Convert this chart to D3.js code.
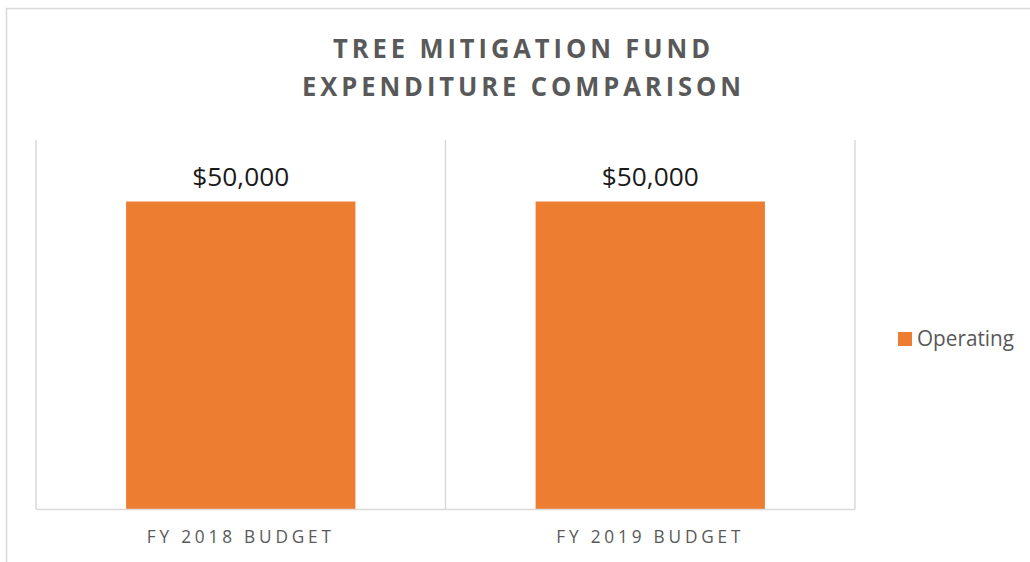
<!DOCTYPE html>
<html><head><meta charset="utf-8">
<script src="https://cdn.jsdelivr.net/npm/d3@7"></script>
<style>body{margin:0;background:#fff}svg{display:block}</style>
</head><body>
<svg id="c" width="1030" height="562"></svg>
<script>
const categories = ["FY 2018 BUDGET", "FY 2019 BUDGET"];
const seriesName = "Operating";
const operating = [50000, 50000];
const titleLines = ["TREE MITIGATION FUND", "EXPENDITURE COMPARISON"];
const yMax = 60000;

const svg = d3.select("#c");
const font = "'Open Sans', sans-serif";
const grey = "#595959";
const orange = "#ED7D31";

// outer chart frame
svg.append("rect").attr("x", 6.5).attr("y", 8.5).attr("width", 1040).attr("height", 600)
  .attr("fill", "#fff").attr("stroke", "#d9d9d9").attr("stroke-width", 1.5);

const plot = {left: 36, right: 855, top: 140, bottom: 509};
const x = d3.scaleBand().domain(categories).range([plot.left, plot.right]).paddingInner(0).paddingOuter(0);
const y = d3.scaleLinear().domain([0, yMax]).range([plot.bottom, plot.top]);

// vertical category gridlines
const edges = [plot.left].concat(categories.map(c => x(c) + x.bandwidth()));
svg.append("g").selectAll("line").data(edges).join("line")
  .attr("x1", d => d).attr("x2", d => d)
  .attr("y1", plot.top).attr("y2", plot.bottom)
  .attr("stroke", "#d9d9d9").attr("stroke-width", 1.5);

// bars
const bw = x.bandwidth() * 0.56;
svg.append("g").selectAll("rect").data(operating).join("rect")
  .attr("x", (d, i) => x(categories[i]) + (x.bandwidth() - bw) / 2)
  .attr("width", bw)
  .attr("y", d => y(d))
  .attr("height", d => y(0) - y(d))
  .attr("fill", orange);

// x axis baseline
svg.append("line").attr("x1", plot.left).attr("x2", plot.right)
  .attr("y1", plot.bottom + 0.5).attr("y2", plot.bottom + 0.5)
  .attr("stroke", "#d9d9d9").attr("stroke-width", 1.5);

// data labels
const fmt = d3.format("$,");
svg.append("g").selectAll("text").data(operating).join("text")
  .attr("x", (d, i) => x(categories[i]) + x.bandwidth() / 2)
  .attr("y", d => y(d) - 16)
  .attr("text-anchor", "middle")
  .attr("font-family", font).attr("font-size", 26)
  .attr("fill", "#1a1a1a")
  .attr("textLength", 97).attr("lengthAdjust", "spacingAndGlyphs")
  .text(d => fmt(d));

// category labels
svg.append("g").selectAll("text").data(categories).join("text")
  .attr("x", d => x(d) + x.bandwidth() / 2)
  .attr("y", 542.5)
  .attr("text-anchor", "middle")
  .attr("font-family", font).attr("font-size", 18)
  .attr("letter-spacing", 4)
  .attr("fill", grey)
  .attr("textLength", 188).attr("lengthAdjust", "spacingAndGlyphs")
  .text(d => d);

// title
const tw = [381, 443];
svg.append("g").selectAll("text").data(titleLines).join("text")
  .attr("x", 523.5)
  .attr("y", (d, i) => 58.3 + i * 37.7)
  .attr("text-anchor", "middle")
  .attr("font-family", font).attr("font-size", 26).attr("font-weight", "bold")
  .attr("letter-spacing", 4)
  .attr("fill", grey)
  .attr("textLength", (d, i) => tw[i]).attr("lengthAdjust", "spacingAndGlyphs")
  .text(d => d);

// legend
const lg = svg.append("g").attr("transform", "translate(898,332)");
lg.append("rect").attr("width", 14).attr("height", 14).attr("fill", orange);
lg.append("text").attr("x", 19).attr("y", 13.7)
  .attr("font-family", font).attr("font-size", 22).attr("fill", grey)
  .attr("textLength", 97).attr("lengthAdjust", "spacingAndGlyphs")
  .text(seriesName);
</script>
</body></html>
